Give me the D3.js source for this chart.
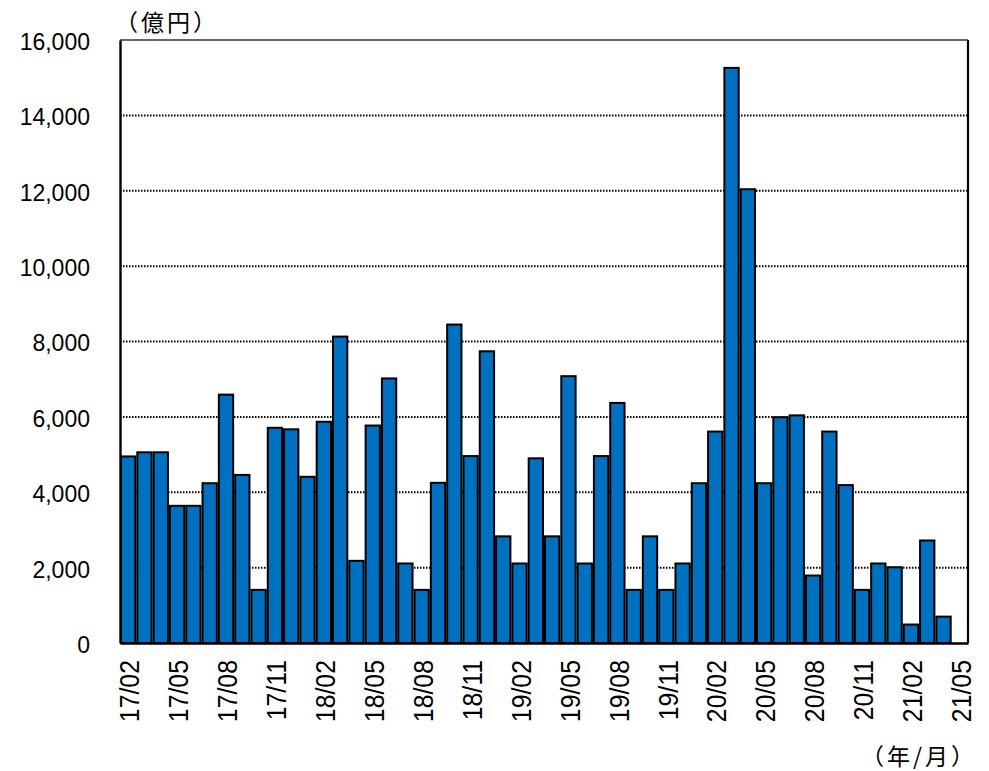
<!DOCTYPE html>
<html>
<head>
<meta charset="utf-8">
<script src="https://cdn.jsdelivr.net/npm/d3@7"></script>
<style>
  html, body { margin: 0; padding: 0; background: #fff; }
  svg { display: block; }
</style>
</head>
<body>
<svg id="chart" width="989" height="771"></svg>
<script>
// Monthly amounts (億円), 2017/02 – 2021/05
const months = [
  "17/02","17/03","17/04","17/05","17/06","17/07","17/08","17/09","17/10","17/11","17/12",
  "18/01","18/02","18/03","18/04","18/05","18/06","18/07","18/08","18/09","18/10","18/11","18/12",
  "19/01","19/02","19/03","19/04","19/05","19/06","19/07","19/08","19/09","19/10","19/11","19/12",
  "20/01","20/02","20/03","20/04","20/05","20/06","20/07","20/08","20/09","20/10","20/11","20/12",
  "21/01","21/02","21/03","21/04","21/05"
];
const values = [
  4950, 5060, 5060, 3640, 3640, 4240, 6590, 4460, 1410, 5710, 5670,
  4410, 5870, 8130, 2180, 5770, 7020, 2110, 1410, 4250, 8450, 4960, 7740,
  2830, 2110, 4900, 2830, 7080, 2110, 4960, 6370, 1410, 2830, 1410, 2110,
  4240, 5610, 15260, 12040, 4240, 5990, 6040, 1790, 5610, 4190, 1410, 2110,
  2010, 490, 2720, 700, null
];
const tickMonths = ["17/02","17/05","17/08","17/11","18/02","18/05","18/08","18/11",
  "19/02","19/05","19/08","19/11","20/02","20/05","20/08","20/11","21/02","21/05"];
const yTicks = [0, 2000, 4000, 6000, 8000, 10000, 12000, 14000, 16000];

const svg = d3.select("#chart");
const plot = { left: 120, right: 968, top: 40, bottom: 643 };

const x = d3.scaleBand().domain(months).range([plot.left, plot.right]).paddingInner(0).paddingOuter(0);
const y = d3.scaleLinear().domain([0, 16000]).range([plot.bottom, plot.top]);

const numFont = "'Liberation Sans', Arial, sans-serif";
const cjkFont = "'Noto Sans CJK JP', sans-serif";

// dotted horizontal gridlines
svg.append("g")
  .selectAll("line")
  .data(yTicks.filter(v => v > 0 && v < 16000))
  .join("line")
  .attr("x1", plot.left).attr("x2", plot.right)
  .attr("y1", d => y(d)).attr("y2", d => y(d))
  .attr("stroke", "#000")
  .attr("stroke-width", 2)
  .attr("stroke-dasharray", "1.5,1.5");

// top frame line
svg.append("line")
  .attr("x1", plot.left).attr("x2", plot.right)
  .attr("y1", y(16000)).attr("y2", y(16000))
  .attr("stroke", "#333").attr("stroke-width", 1.5);

// bars
svg.append("g")
  .selectAll("rect")
  .data(months.map((m, i) => ({ m, v: values[i] })).filter(d => d.v != null))
  .join("rect")
  .attr("x", d => x(d.m) + 1)
  .attr("width", x.bandwidth() - 2)
  .attr("y", d => y(d.v))
  .attr("height", d => y(0) - y(d.v))
  .attr("fill", "#0070C0")
  .attr("stroke", "#000")
  .attr("stroke-width", 2);

// right frame line
svg.append("line")
  .attr("x1", plot.right).attr("x2", plot.right)
  .attr("y1", plot.top).attr("y2", plot.bottom)
  .attr("stroke", "#000").attr("stroke-width", 2.2);

// left (value) axis
const yAxis = svg.append("g")
  .attr("transform", `translate(${plot.left},0)`)
  .call(d3.axisLeft(y).tickValues(yTicks).tickFormat(d3.format(",")).tickSize(0).tickPadding(30));
yAxis.select(".domain").attr("stroke", "#000").attr("stroke-width", 2.4);
yAxis.selectAll("text")
  .attr("font-family", numFont)
  .attr("font-size", 23)
  .attr("dy", "0.41em")
  .attr("fill", "#000");

// bottom (month) axis, labels turned to read upward
const xAxis = svg.append("g")
  .attr("transform", `translate(0,${plot.bottom})`)
  .call(d3.axisBottom(x).tickValues(tickMonths).tickSize(0));
xAxis.select(".domain").attr("stroke", "#000").attr("stroke-width", 2.4);
xAxis.selectAll("text")
  .attr("font-family", numFont)
  .attr("font-size", 27)
  .attr("fill", "#000")
  .attr("text-anchor", "end")
  .attr("transform", "rotate(-90) scale(0.92,1)")
  .attr("x", -18.5)
  .attr("y", 1.5)
  .attr("dy", "0.36em");

// unit labels
svg.append("text")
  .attr("x", 115).attr("y", 31)
  .attr("font-family", cjkFont)
  .attr("font-size", 23)
  .attr("letter-spacing", 3)
  .attr("fill", "#000")
  .text("（億円）");

svg.append("text")
  .attr("x", 861).attr("y", 765)
  .attr("font-family", cjkFont)
  .attr("font-size", 23)
  .attr("letter-spacing", 3)
  .attr("fill", "#000")
  .text("（年/月）");
</script>
</body>
</html>
